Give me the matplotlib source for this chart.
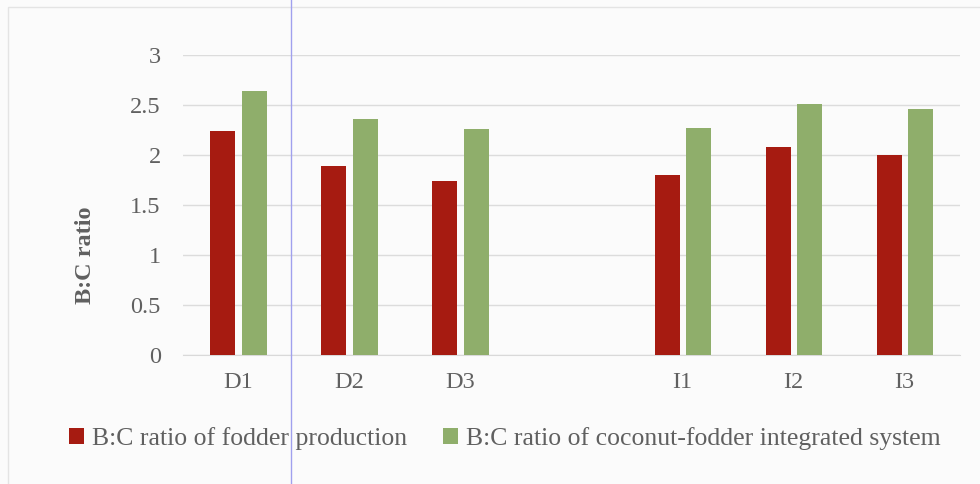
import numpy as np
import matplotlib
matplotlib.use("Agg")
import matplotlib.pyplot as plt
from matplotlib.patches import Rectangle
from matplotlib.lines import Line2D

# B:C ratios per treatment; the blank slot separates the D and I groups
categories = ["D1", "D2", "D3", "", "I1", "I2", "I3"]
fodder = [2.24, 1.89, 1.74, np.nan, 1.80, 2.08, 2.00]
integrated = [2.64, 2.36, 2.26, np.nan, 2.27, 2.51, 2.46]
series_names = ["B:C ratio of fodder production",
                "B:C ratio of coconut-fodder integrated system"]
yticks = [0, 0.5, 1, 1.5, 2, 2.5, 3]

red = "#a61b11"
green = "#8fae6b"
grey_text = "#606060"

plt.rcParams["font.family"] = ["Liberation Serif", "DejaVu Serif"]

fig = plt.figure(figsize=(9.8, 4.84), dpi=100, facecolor="#fbfbfb")
ax = fig.add_axes([0.1867, 0.2665, 0.793, 0.62])
ax.set_facecolor("none")

x = np.arange(len(categories))
w = 0.225
ax.bar(x - 0.14, fodder, w, color=red, label=series_names[0], zorder=3)
ax.bar(x + 0.14, integrated, w, color=green, label=series_names[1], zorder=3)

ax.set_xlim(-0.5, len(categories) - 0.5)
ax.set_ylim(0, 3)
ax.set_yticks(yticks)
ax.set_yticklabels([f"{v:g}" for v in yticks])
ax.set_xticks(x)
ax.set_xticklabels(categories)
ax.tick_params(length=0, labelsize=17.5, labelcolor=grey_text)
ax.tick_params(axis="y", pad=16)
ax.tick_params(axis="x", pad=12)

ax.grid(axis="y", color="#dcdcdc", linewidth=1, zorder=0)
for side in ["top", "right", "left"]:
    ax.spines[side].set_visible(False)
ax.spines["bottom"].set_color("#d9d9d9")

ax.set_ylabel("B:C ratio", fontsize=17.5, fontweight="bold", color=grey_text)
ax.yaxis.set_label_coords(-0.112, 0.333)

fig.legend(loc="center", bbox_to_anchor=(0.515, 0.094), ncol=2, frameon=False,
           fontsize=18.5, labelcolor=grey_text, handlelength=0.6,
           handleheight=0.6, handletextpad=0.3, columnspacing=1.4)

# faint chart border and the stray vertical rule
fig.add_artist(Rectangle((8 / 980, -0.1), 1.1, 1 - 7 / 484 + 0.1,
                         transform=fig.transFigure, fill=False,
                         edgecolor="#e4e4e4", linewidth=1))
fig.add_artist(Line2D([291 / 980, 291 / 980], [0, 1], transform=fig.transFigure,
                      color="#a0a0ee", linewidth=1))

fig.savefig("out.png", dpi=100, facecolor=fig.get_facecolor())
